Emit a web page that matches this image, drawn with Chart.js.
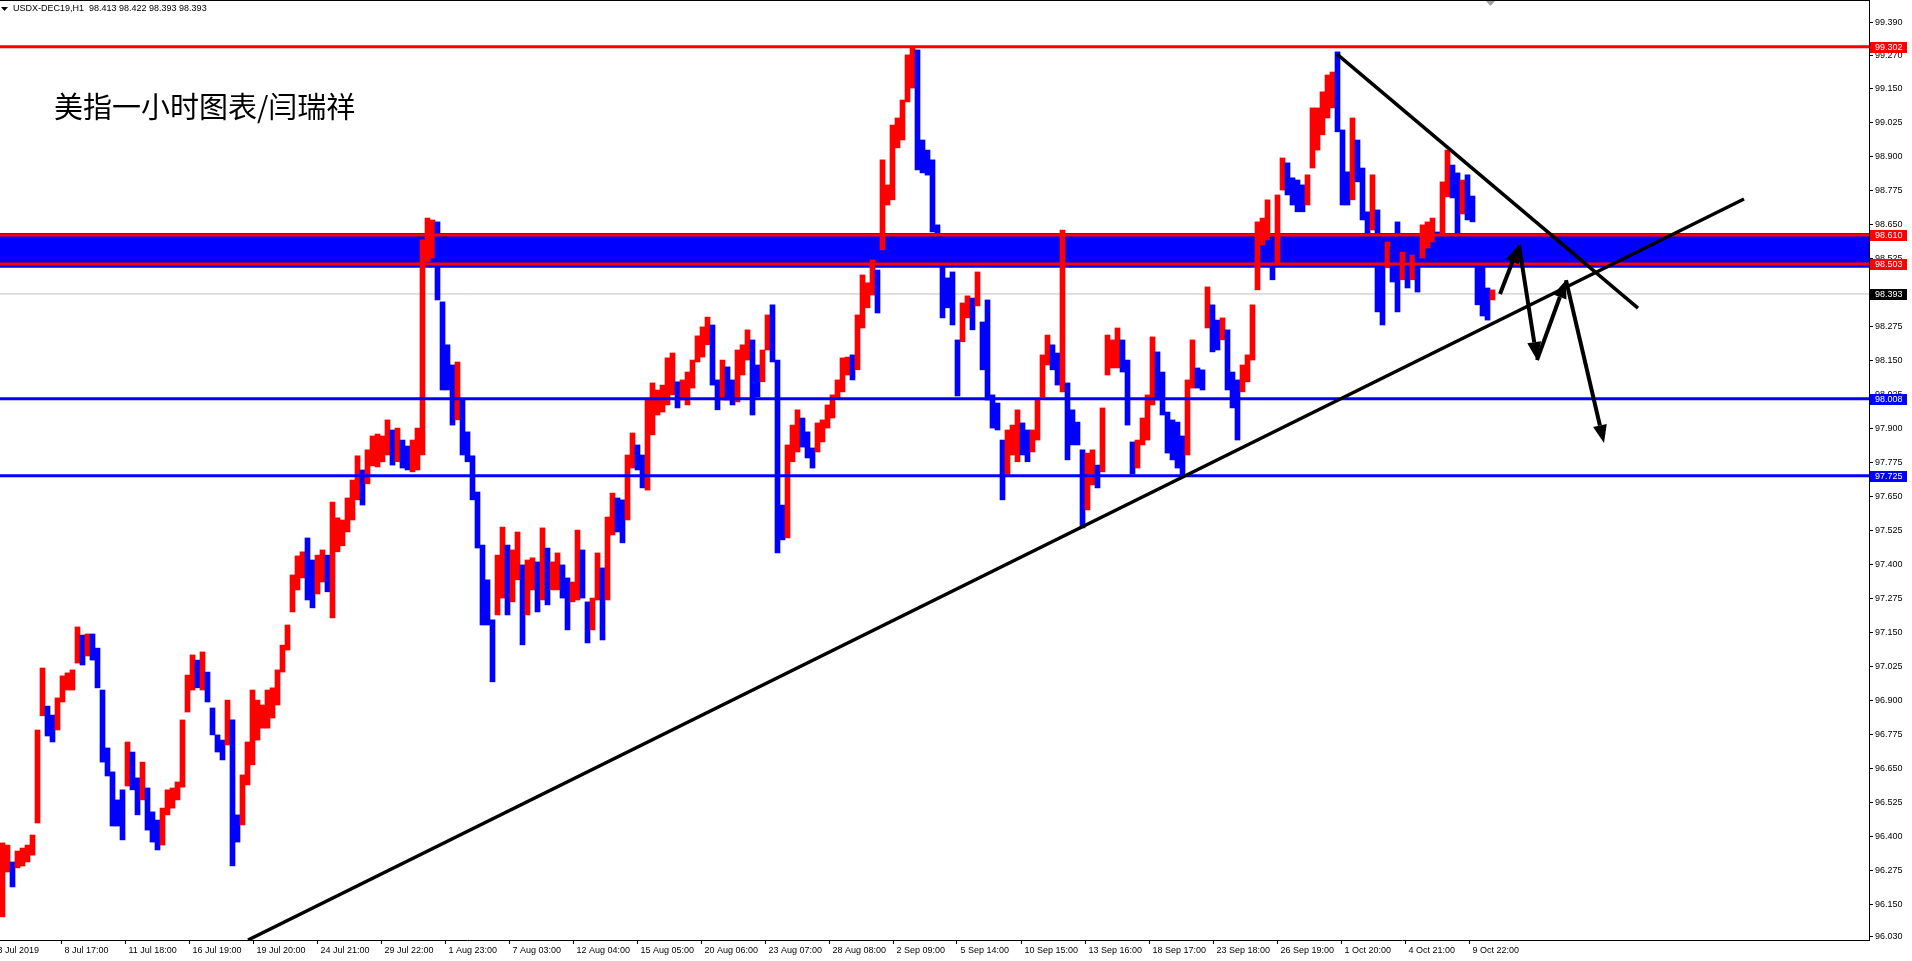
<!DOCTYPE html>
<html>
<head>
<meta charset="utf-8">
<title>USDX-DEC19,H1</title>
<script src="https://cdn.jsdelivr.net/npm/chart.js@4.4.1/dist/chart.umd.min.js"></script>
<style>
  html, body { margin: 0; padding: 0; background: #fff; overflow: hidden; }
  #wrap { position: relative; width: 1912px; height: 961px; }
</style>
</head>
<body>
<div id="wrap"><canvas id="chart" width="1912" height="961"></canvas></div>
<script>
const symbolTitle = 'USDX-DEC19,H1  98.413 98.422 98.393 98.393';
const chartNote = '美指一小时图表/闫瑞祥';

// hourly bars, grouped 5 per entry (high / low of the group)
const barHigh = [
  96.375, 96.367, 96.305, 96.345, 96.356, 96.367, 96.404, 96.790, 97.018, 96.878,
  96.845, 96.908, 96.989, 97.000, 97.011, 97.169, 97.139, 97.143, 97.143, 97.091,
  96.937, 96.724, 96.636, 96.533, 96.570, 96.746, 96.709, 96.614, 96.672, 96.577,
  96.489, 96.459, 96.503, 96.570, 96.577, 96.599, 96.827, 96.992, 97.066, 97.047,
  97.077, 97.003, 96.871, 96.772, 96.753, 96.900, 96.827, 96.478, 96.625, 96.746,
  96.937, 96.900, 96.882, 96.937, 96.945, 97.011, 97.102, 97.176, 97.360, 97.430,
  97.445, 97.496, 97.415, 97.433, 97.452, 97.433, 97.628, 97.570, 97.562, 97.643,
  97.709, 97.798, 97.746, 97.820, 97.871, 97.878, 97.871, 97.930, 97.893, 97.900,
  97.856, 97.834, 97.856, 97.900, 98.592, 98.672, 98.665, 98.658, 98.364, 98.206,
  98.132, 98.143, 98.003, 97.886, 97.798, 97.665, 97.470, 97.342, 97.195, 97.433,
  97.536, 97.470, 97.452, 97.518, 97.397, 97.415, 97.423, 97.408, 97.533, 97.459,
  97.408, 97.441, 97.397, 97.349, 97.334, 97.525, 97.452, 97.261, 97.275, 97.441,
  97.386, 97.573, 97.661, 97.643, 97.636, 97.801, 97.882, 97.838, 97.801, 98.003,
  98.066, 98.040, 98.058, 98.158, 98.176, 98.070, 98.077, 98.106, 98.150, 98.239,
  98.272, 98.308, 98.279, 98.077, 98.150, 98.125, 98.077, 98.187, 98.206, 98.261,
  98.224, 98.132, 98.187, 98.316, 98.353, 98.150, 97.617, 97.838, 97.911, 97.967,
  97.937, 97.886, 97.827, 97.919, 97.930, 97.985, 98.022, 98.077, 98.158, 98.161,
  98.169, 98.316, 98.463, 98.434, 98.518, 98.481, 98.886, 98.794, 99.014, 99.040,
  99.106, 99.272, 99.300, 99.290, 98.959, 98.922, 98.886, 98.647, 98.511, 98.452,
  98.474, 98.224, 98.360, 98.386, 98.378, 98.474, 98.290, 98.371, 98.022, 97.992,
  97.856, 97.893, 97.911, 97.967, 97.919, 97.893, 97.893, 98.003, 98.169, 98.242,
  98.206, 98.176, 98.628, 98.066, 97.967, 97.922, 97.820, 97.808, 97.820, 97.764,
  97.974, 98.242, 98.224, 98.268, 98.224, 98.150, 97.849, 97.856, 97.937, 98.022,
  98.235, 98.180, 98.106, 97.959, 97.930, 97.922, 97.871, 98.077, 98.224, 98.121,
  98.114, 98.419, 98.353, 98.297, 98.305, 98.261, 98.106, 98.077, 98.132, 98.169,
  98.353, 98.658, 98.672, 98.739, 98.603, 98.757, 98.893, 98.875, 98.820, 98.812,
  98.794, 98.831, 99.077, 99.077, 99.136, 99.198, 99.209, 99.283, 98.996, 98.842,
  99.040, 98.959, 98.856, 98.695, 98.831, 98.702, 98.500, 98.584, 98.566, 98.658,
  98.547, 98.500, 98.536, 98.547, 98.647, 98.658, 98.672, 98.621, 98.805, 98.922,
  98.867, 98.838, 98.812, 98.831, 98.753, 98.536, 98.544, 98.415, 98.408
];
const barLow = [
  96.103, 96.268, 96.213, 96.283, 96.290, 96.305, 96.330, 96.448, 96.842, 96.768,
  96.746, 96.790, 96.893, 96.937, 96.937, 97.036, 97.029, 97.062, 97.047, 96.945,
  96.672, 96.621, 96.437, 96.437, 96.386, 96.584, 96.570, 96.478, 96.533, 96.422,
  96.378, 96.349, 96.367, 96.478, 96.503, 96.533, 96.580, 96.856, 96.937, 96.945,
  96.937, 96.893, 96.772, 96.709, 96.680, 96.735, 96.290, 96.378, 96.441, 96.588,
  96.662, 96.753, 96.797, 96.797, 96.834, 96.882, 97.003, 97.084, 97.224, 97.305,
  97.349, 97.268, 97.239, 97.290, 97.334, 97.298, 97.202, 97.445, 97.467, 97.518,
  97.562, 97.636, 97.617, 97.695, 97.761, 97.757, 97.776, 97.801, 97.764, 97.776,
  97.753, 97.746, 97.739, 97.746, 97.801, 98.511, 98.525, 98.371, 98.040, 98.040,
  97.911, 97.930, 97.801, 97.776, 97.636, 97.459, 97.176, 97.176, 96.967, 97.213,
  97.275, 97.213, 97.261, 97.342, 97.103, 97.213, 97.305, 97.224, 97.268, 97.250,
  97.305, 97.305, 97.275, 97.158, 97.261, 97.268, 97.275, 97.110, 97.158, 97.268,
  97.121, 97.268, 97.507, 97.518, 97.478, 97.562, 97.753, 97.746, 97.680, 97.672,
  97.875, 97.948, 97.959, 97.985, 98.022, 97.974, 98.003, 97.985, 98.047, 98.143,
  98.161, 98.206, 98.058, 97.967, 98.003, 98.003, 97.985, 97.996, 98.095, 98.150,
  97.948, 98.014, 98.070, 98.187, 98.143, 97.441, 97.489, 97.496, 97.776, 97.812,
  97.830, 97.790, 97.753, 97.812, 97.849, 97.900, 97.937, 98.011, 98.033, 98.095,
  98.077, 98.114, 98.268, 98.342, 98.389, 98.323, 98.555, 98.720, 98.739, 98.930,
  98.959, 99.099, 99.150, 98.849, 98.838, 98.830, 98.621, 98.518, 98.305, 98.342,
  98.279, 98.018, 98.217, 98.305, 98.261, 98.349, 98.114, 98.003, 97.900, 97.893,
  97.636, 97.728, 97.801, 97.776, 97.801, 97.776, 97.812, 97.856, 98.014, 98.132,
  98.114, 98.058, 98.033, 97.783, 97.838, 97.838, 97.533, 97.599, 97.691, 97.680,
  97.739, 98.095, 98.121, 98.121, 98.106, 97.911, 97.731, 97.753, 97.838, 97.856,
  97.985, 98.003, 97.948, 97.808, 97.783, 97.753, 97.728, 97.801, 98.047, 98.047,
  98.040, 98.268, 98.180, 98.187, 98.224, 98.040, 97.974, 97.856, 98.033, 98.070,
  98.150, 98.408, 98.573, 98.592, 98.445, 98.500, 98.775, 98.757, 98.720, 98.695,
  98.695, 98.720, 98.856, 98.922, 98.978, 99.040, 99.077, 98.989, 98.720, 98.720,
  98.739, 98.805, 98.665, 98.610, 98.628, 98.327, 98.279, 98.489, 98.437, 98.327,
  98.445, 98.415, 98.445, 98.400, 98.525, 98.562, 98.584, 98.511, 98.610, 98.750,
  98.746, 98.610, 98.687, 98.665, 98.658, 98.353, 98.312, 98.297, 98.371
];

const firstDate = '3 Jul 2019';
const timeLabels = [
  '8 Jul 17:00', '11 Jul 18:00', '16 Jul 19:00', '19 Jul 20:00', '24 Jul 21:00',
  '29 Jul 22:00', '1 Aug 23:00', '7 Aug 03:00', '12 Aug 04:00', '15 Aug 05:00', '20 Aug 06:00',
  '23 Aug 07:00', '28 Aug 08:00', '2 Sep 09:00', '5 Sep 14:00', '10 Sep 15:00', '13 Sep 16:00',
  '18 Sep 17:00', '23 Sep 18:00', '26 Sep 19:00', '1 Oct 20:00', '4 Oct 21:00', '9 Oct 22:00'
];
const priceTicks = [
  99.390, 99.270, 99.150, 99.025, 98.900, 98.775, 98.650, 98.525, 98.400, 98.275,
  98.150, 98.025, 97.900, 97.775, 97.650, 97.525, 97.400, 97.275, 97.150, 97.025,
  96.900, 96.775, 96.650, 96.525, 96.400, 96.275, 96.150, 96.030
];

const resistLevels = [99.302, 98.610, 98.503];
const supportLevels = [98.008, 97.725];
const zoneEdges = [98.617, 98.489];
const lastPrice = 98.393;

const trendUp = [[248, 96.018], [1744, 98.742]];
const trendDown = [[1337, 99.275], [1638, 98.341]];
const arrowPath = [[1500, 98.393], [1519, 98.573], [1537, 98.150], [1566, 98.444], [1604, 97.845]];

const RED = '#ff0000', BLUE = '#0000ff', BLACK = '#000000';
const X_END = 1869;
const AXIS_FONT = '9px "Liberation Sans", Arial, sans-serif';

const barPoints = barHigh.map((h, i) => ({ x: i * 5 + 2.5, y: [barLow[i], h] }));
const barColors = barHigh.map((h, i) => {
  const mid = (h + barLow[i]) / 2;
  const prev = i ? (barHigh[i - 1] + barLow[i - 1]) / 2 : mid;
  return mid >= prev ? RED : BLUE;
});

function hLine(v, color, width, order) {
  return {
    type: 'line', data: [{ x: 0, y: v }, { x: X_END, y: v }],
    borderColor: color, borderWidth: width, pointRadius: 0, fill: false, order: order
  };
}
function segLine(pts, order) {
  return {
    type: 'line', data: pts.map(p => ({ x: p[0], y: p[1] })),
    borderColor: BLACK, borderWidth: 3.5, pointRadius: 0, fill: false, order: order
  };
}

const datasets = [
  {
    type: 'line', data: [{ x: 0, y: zoneEdges[0] }, { x: X_END, y: zoneEdges[0] }],
    borderWidth: 0, pointRadius: 0, fill: { value: zoneEdges[1] },
    backgroundColor: BLUE, order: 10
  },
  hLine(lastPrice, '#c0c0c0', 1, 9),
  {
    type: 'bar', data: barPoints, backgroundColor: barColors,
    borderWidth: 0, barPercentage: 1, categoryPercentage: 1, grouped: false, order: 5
  },
  ...resistLevels.map(v => hLine(v, RED, 3, 2)),
  ...supportLevels.map(v => hLine(v, BLUE, 3, 2)),
  segLine(trendUp, 1),
  segLine(trendDown, 1)
];

const mt4Decor = {
  id: 'mt4Decor',
  afterDatasetsDraw(chart) {
    const { ctx, scales: { x, y } } = chart;
    ctx.save();
    ctx.strokeStyle = BLACK;
    ctx.fillStyle = BLACK;
    ctx.lineWidth = 4;
    for (let i = 1; i < arrowPath.length; i++) {
      const x0 = x.getPixelForValue(arrowPath[i - 1][0]), y0 = y.getPixelForValue(arrowPath[i - 1][1]);
      const x1 = x.getPixelForValue(arrowPath[i][0]), y1 = y.getPixelForValue(arrowPath[i][1]);
      const ang = Math.atan2(y1 - y0, x1 - x0);
      const len = 18, half = 7;
      const bx = x1 - Math.cos(ang) * len, by = y1 - Math.sin(ang) * len;
      ctx.beginPath();
      ctx.moveTo(x0, y0);
      ctx.lineTo(bx, by);
      ctx.stroke();
      ctx.beginPath();
      ctx.moveTo(x1, y1);
      ctx.lineTo(bx - Math.sin(ang) * half, by + Math.cos(ang) * half);
      ctx.lineTo(bx + Math.sin(ang) * half, by - Math.cos(ang) * half);
      ctx.closePath();
      ctx.fill();
    }
    ctx.restore();
  },
  afterDraw(chart) {
    const { ctx, chartArea, scales: { y } } = chart;
    ctx.save();
    // frame top
    ctx.fillStyle = BLACK;
    ctx.fillRect(0, 0, chartArea.right + 1, 1);

    // price tags on the axis
    const tags = [
      ...resistLevels.map(v => [v, RED]),
      ...supportLevels.map(v => [v, BLUE]),
      [lastPrice, BLACK]
    ];
    ctx.font = AXIS_FONT;
    ctx.textBaseline = 'middle';
    ctx.textAlign = 'left';
    tags.forEach(([v, c]) => {
      const py = Math.round(y.getPixelForValue(v));
      ctx.fillStyle = c;
      ctx.fillRect(chartArea.right + 1, py - 5, 37, 11);
      ctx.fillStyle = '#ffffff';
      ctx.fillText(v.toFixed(3), chartArea.right + 6, py + 0.5);
    });

    // first (cut) date label on the time axis
    ctx.fillStyle = BLACK;
    ctx.fillText(firstDate, -2.5, chartArea.bottom + 10.5);

    // header line
    ctx.beginPath();
    ctx.moveTo(1, 7); ctx.lineTo(8, 7); ctx.lineTo(4.5, 11); ctx.closePath();
    ctx.fill();
    ctx.fillText(symbolTitle, 13, 8.5);

    // chart shift marker
    ctx.fillStyle = '#a0a0a0';
    ctx.beginPath();
    ctx.moveTo(1486, 1); ctx.lineTo(1495, 1); ctx.lineTo(1490.5, 6); ctx.closePath();
    ctx.fill();

    // note
    ctx.fillStyle = BLACK;
    ctx.font = '29px "Noto Sans CJK SC", sans-serif';
    ctx.fillText(chartNote, 54, 107);
    ctx.restore();
  }
};

Chart.defaults.font.family = '"Liberation Sans", Arial, sans-serif';
Chart.defaults.font.size = 9;
Chart.defaults.color = BLACK;

new Chart(document.getElementById('chart'), {
  type: 'bar',
  data: { datasets: datasets },
  options: {
    responsive: false,
    animation: false,
    events: [],
    layout: { padding: { top: 1, left: 0, right: 0, bottom: 0 } },
    plugins: { legend: { display: false }, tooltip: { enabled: false } },
    scales: {
      x: {
        type: 'linear', min: 0, max: X_END, offset: false,
        grid: { drawOnChartArea: false, offset: false, tickLength: 4, tickColor: BLACK },
        border: { color: BLACK, width: 1 },
        afterBuildTicks: scale => {
          scale.ticks = timeLabels.map((t, i) => ({ value: 61 + 64 * i }));
        },
        afterFit: scale => {
          scale.height = 21;
          scale.paddingLeft = 0;
          scale.paddingRight = 0;
        },
        ticks: {
          autoSkip: false, maxRotation: 0, minRotation: 0, align: 'start', labelOffset: 3.5, padding: 1,
          color: BLACK, callback: (v, i) => timeLabels[i]
        }
      },
      y: {
        type: 'linear', position: 'right', min: 96.018, max: 99.470,
        grid: { drawOnChartArea: false, tickLength: 4, tickColor: BLACK },
        border: { color: BLACK, width: 1 },
        afterBuildTicks: scale => { scale.ticks = priceTicks.map(v => ({ value: v })); },
        afterFit: scale => {
          scale.width = 43;
          scale.paddingTop = 0;
          scale.paddingBottom = 0;
        },
        ticks: { autoSkip: false, padding: 2, color: BLACK, callback: v => v.toFixed(3) }
      }
    }
  },
  plugins: [mt4Decor]
});
</script>
</body>
</html>
